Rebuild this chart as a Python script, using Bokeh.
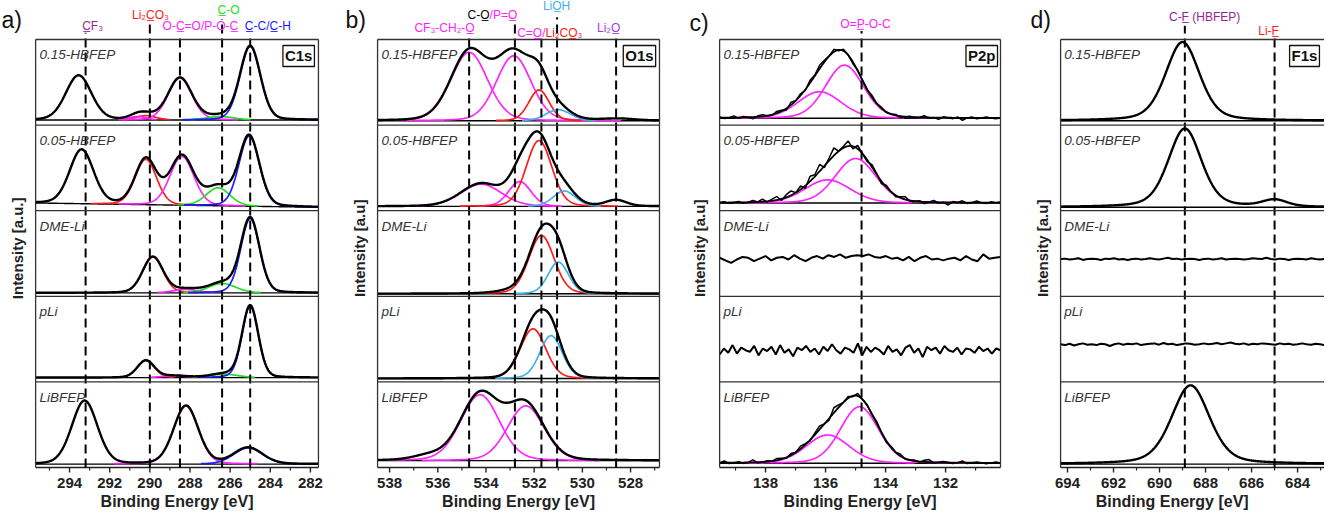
import numpy as np
from bokeh.plotting import figure
from bokeh.layouts import row
from bokeh.models import Range1d
from bokeh.core.properties import value
from bokeh.embed import file_html
from bokeh.resources import INLINE

FONT = "Liberation Sans"
SAMPLES = ["0.15-HBFEP", "0.05-HBFEP", "DME-Li", "pLi", "LiBFEP"]
COL = {"k": "black", "r": "#ff1a1a", "m": "#ff22ff", "g": "#22dd22", "b": "#1a1aff",
       "s": "#3fb0ea", "p": "#93278f", "v": "#a33ae0"}

# ---------------- data: fitted peaks (centre eV, height, FWHM eV, colour) ----------------
C1S_PEAKS = [
    [(293.55, 0.52, 1.5, "k"), (290.2, 0.05, 1.2, "r"), (290.6, 0.04, 1.0, "m"),
     (288.5, 0.49, 1.4, "m"), (286.5, 0.04, 1.6, "g"), (285.0, 0.86, 1.2, "b")],
    [(293.4, 0.63, 1.4, "k"), (290.2, 0.53, 1.25, "r"), (288.4, 0.57, 1.4, "m"),
     (286.6, 0.21, 1.4, "g"), (285.05, 0.82, 1.2, "b")],
    [(289.85, 0.42, 1.2, "r"), (288.2, 0.04, 1.5, "m"), (286.4, 0.11, 1.6, "g"),
     (285.0, 0.87, 1.1, "b")],
    [(290.2, 0.20, 1.0, "r"), (288.8, 0.02, 1.5, "m"), (286.3, 0.04, 1.6, "g"),
     (285.0, 0.84, 0.95, "b")],
    [(293.25, 0.74, 1.5, "k"), (288.2, 0.68, 1.45, "m"), (285.1, 0.19, 1.7, "b")],
]
C1S_BASE_L = [0.06, 0.09, 0.04, 0.05, 0.04]
C1S_BASE_R = [0.06, 0.04, 0.04, 0.05, 0.04]

O1S_PEAKS = [
    [(534.7, 0.80, 1.8, "m"), (532.85, 0.76, 1.7, "m"), (531.8, 0.36, 1.0, "r"),
     (531.0, 0.13, 1.2, "s"), (528.5, 0.02, 1.5, "k")],
    [(534.2, 0.26, 2.0, "m"), (532.6, 0.29, 1.1, "m"), (531.8, 0.77, 1.25, "r"),
     (530.75, 0.18, 1.1, "s"), (528.6, 0.07, 1.0, "k")],
    [(532.9, 0.03, 1.5, "k"), (531.7, 0.68, 1.25, "r"), (531.0, 0.37, 1.0, "s")],
    [(532.05, 0.58, 1.25, "r"), (531.3, 0.50, 1.1, "s")],
    [(536.4, 0.05, 1.5, "k"), (534.25, 0.77, 1.9, "m"), (532.35, 0.64, 1.8, "m")],
]
O1S_BASE_L = [0.05, 0.05, 0.03, 0.04, 0.08]
O1S_BASE_R = [0.05, 0.05, 0.03, 0.04, 0.08]

P2P_PEAKS = [
    [(135.37, 0.62, 1.5, "m"), (136.2, 0.31, 1.7, "m")],
    [(135.0, 0.52, 1.6, "m"), (135.93, 0.27, 1.8, "m")],
    None,
    None,
    [(134.87, 0.66, 1.5, "m"), (135.93, 0.33, 1.7, "m")],
]
P2P_BASE_L = [0.08, 0.09, 0.45, 0.37, 0.05]
P2P_BASE_R = [0.08, 0.09, 0.45, 0.37, 0.05]

F1S_PEAKS = [
    [(689.0, 0.92, 1.75, "k")],
    [(688.9, 0.92, 1.7, "k"), (685.0, 0.08, 1.3, "k")],
    None,
    None,
    [(688.65, 0.92, 1.95, "k")],
]
F1S_BASE_L = [0.05, 0.04, 0.435, 0.44, 0.04]
F1S_BASE_R = [0.05, 0.04, 0.435, 0.44, 0.04]

# raw-signal deviations
P2P_NOISE = [
    [0.01, -0.01, 0.0, 0.02, -0.01, 0.01, 0.0, -0.02, 0.01, 0.02, 0.0, -0.01, 0.02, 0.01, -0.02, 0.03,
     0.0, 0.02, -0.01, 0.03, 0.01, 0.04, 0.02, 0.0, 0.03, -0.01, 0.02, 0.0, -0.02, 0.01, 0.0, -0.01,
     0.02, 0.0, 0.01, -0.01, 0.0, 0.01, -0.02, 0.0, 0.01, -0.01, 0.0, 0.02, -0.01, 0.0, -0.02, 0.01,
     0.0, -0.01, 0.01, -0.03, 0.0, 0.01, -0.01, 0.0, 0.01, 0.0, -0.01, 0.0],
    [0.0, 0.01, -0.01, 0.0, 0.01, -0.01, 0.0, 0.02, 0.0, 0.03, -0.01, 0.02, 0.04, -0.02, 0.03, 0.05,
     0.0, 0.04, -0.03, 0.06, 0.02, 0.08, -0.02, 0.03, 0.09, 0.0, 0.02, 0.06, -0.03, 0.04, 0.0, -0.02,
     0.03, 0.01, -0.03, 0.02, 0.0, -0.02, 0.01, 0.03, -0.01, 0.0, 0.01, -0.02, 0.0, 0.02, -0.01, 0.0,
     -0.03, 0.01, 0.0, 0.02, -0.01, 0.0, 0.02, 0.0, -0.01, 0.01, 0.0, 0.01],
    [0.0, -0.03, -0.06, -0.02, 0.01, 0.0, -0.04, -0.01, 0.02, -0.03, 0.0, 0.01, -0.02, 0.03, -0.01,
     -0.04, 0.0, 0.02, -0.01, 0.03, 0.01, 0.04, 0.0, 0.02, 0.03, 0.02, 0.04, 0.01, 0.0, 0.02, -0.01,
     0.0, -0.03, 0.01, -0.04, 0.0, 0.02, -0.02, -0.01, -0.03, -0.01, 0.0, -0.03, 0.02, -0.02, -0.04,
     0.04, -0.01, 0.0, 0.01],
    [-0.05, 0.02, -0.03, 0.06, -0.04, 0.03, 0.0, -0.02, 0.05, -0.06, 0.02, -0.01, 0.04, -0.05, 0.06,
     -0.03, 0.01, -0.07, 0.03, 0.0, 0.05, -0.02, 0.02, -0.05, 0.04, -0.01, 0.07, 0.0, -0.04, 0.03,
     0.01, -0.03, 0.08, -0.06, 0.04, -0.02, 0.03, 0.0, -0.05, 0.05, -0.02, 0.01, -0.06, 0.03, 0.06,
     -0.03, 0.02, -0.08, 0.04, 0.0, 0.03, -0.04, 0.05, 0.0, -0.02, 0.03, -0.05, 0.02, 0.01, -0.03,
     0.04, -0.01, 0.02, -0.04, 0.02, 0.0],
    [0.0, 0.02, -0.01, 0.0, 0.01, -0.01, 0.0, 0.03, -0.01, 0.0, 0.01, 0.0, 0.02, 0.01, -0.01, 0.02,
     0.0, 0.03, 0.01, -0.01, 0.02, 0.04, 0.0, -0.02, 0.06, 0.03, 0.0, 0.02, -0.01, 0.03, 0.0, 0.01,
     -0.01, 0.02, 0.0, -0.02, 0.01, 0.0, 0.02, -0.01, 0.0, 0.01, -0.01, 0.02, 0.03, -0.01, 0.0, 0.01,
     0.0, -0.01, 0.0, 0.02, -0.01, 0.0, 0.01, 0.0, -0.01, 0.0, 0.01, 0.0],
]
F1S_NOISE = [
    None, None,
    [0.0, 0.005, -0.005, 0.0, 0.01, -0.01, 0.0, 0.005, 0.0, -0.01, 0.005, 0.0, 0.01, -0.005, 0.0,
     -0.01, 0.0, 0.005, -0.005, 0.0, 0.01, 0.0, -0.005, 0.005, 0.015, 0.0, 0.005, -0.005, 0.0, 0.005,
     0.0, -0.01, 0.0, 0.005, -0.005, 0.0, 0.01, -0.005, 0.0, 0.005, 0.0, -0.005, 0.0, 0.01, 0.005,
     0.0, 0.015, 0.0, -0.005, 0.005, 0.0, -0.01, 0.0, 0.005, 0.0, -0.005, 0.01, 0.0, -0.005, 0.0],
    [0.0, -0.01, 0.005, -0.015, 0.0, 0.01, -0.005, 0.0, -0.01, 0.005, 0.0, -0.02, 0.0, 0.01, -0.005,
     0.005, 0.0, 0.01, -0.01, 0.0, 0.005, 0.01, -0.005, 0.015, 0.0, 0.005, -0.01, 0.0, 0.01, 0.005,
     -0.005, 0.0, 0.01, 0.0, 0.005, 0.015, 0.0, 0.01, 0.02, 0.005, 0.0, 0.01, -0.005, 0.005, 0.0,
     0.01, 0.005, 0.0, -0.005, 0.01, 0.0, 0.005, -0.005, 0.0, 0.01, 0.0, -0.005, 0.005, 0.0, -0.01],
    None,
]
NO_NOISE = [None] * 5

# reference binding energies (dashed lines)
C1S_LINES = [293.2, 290.0, 288.5, 286.4, 285.0]
O1S_LINES = [534.7, 532.8, 531.7, 531.05, 528.6]
P2P_LINES = [134.8]
F1S_LINES = [688.9, 685.0]

TICKS_C1S = [282, 284, 286, 288, 290, 292, 294]
TICKS_O1S = [528, 530, 532, 534, 536, 538]
TICKS_P2P = [132, 134, 136, 138]
TICKS_F1S = [684, 686, 688, 690, 692, 694]

U = "\u0332"  # combining underline
UNIT_PX = 85.6


def pv(x, c, h, w, m):
    d = (x - c) / w
    return h * ((1 - m) * np.exp(-4 * np.log(2) * d * d) + m / (1 + 4 * d * d))


def panel(width, xr, frame, ticks, peaks, base_l, base_r, noise, mix, lines, line_tops,
          labels, letter, ylabel, core, right_edge=True):
    ytop = 5 + 39 / UNIT_PX
    ybot = -43 / UNIT_PX
    p = figure(width=width, height=510, x_range=Range1d(*xr), y_range=Range1d(ybot, ytop),
               output_backend="svg", toolbar_location=None, y_axis_location=None,
               x_axis_location=None, min_border=0)
    p.outline_line_color = None
    p.xgrid.visible = False
    p.ygrid.visible = False
    p.background_fill_color = "white"
    p.border_fill_color = "white"
    fl, fr = frame
    lo, hi = min(fl, fr), max(fl, fr)

    # x axis drawn from the tick arrays
    minor = sorted(set(m for t in ticks for m in (t - 1, t + 1) if lo < m < hi and m not in ticks))
    p.segment(x0=[lo], y0=[0], x1=[hi], y1=[0], color="#222", line_width=1.6)
    p.segment(x0=ticks, y0=[0] * len(ticks), x1=ticks, y1=[-5 / UNIT_PX] * len(ticks),
              color="#222", line_width=1.4)
    p.segment(x0=minor, y0=[0] * len(minor), x1=minor, y1=[-3 / UNIT_PX] * len(minor),
              color="#222", line_width=1.2)
    p.text(x=ticks, y=[-15 / UNIT_PX] * len(ticks), text=[str(t) for t in ticks],
           text_font=value(FONT), text_font_style="bold", text_font_size="15px",
           text_color="#222", text_align="center", text_baseline="middle")
    xmid = (fl + fr) / 2 if right_edge else (fl + 684.6) / 2
    p.text(x=[xmid], y=[-34 / UNIT_PX], text=["Binding Energy [eV]"], text_font=value(FONT),
           text_font_style="bold", text_font_size="16px", text_color="#222",
           text_align="center", text_baseline="middle")

    # spectra
    for i in range(5):
        off = 4 - i
        pk = peaks[i]
        nz = noise[i]
        if pk is None:
            xs_n = np.linspace(fl, fr, len(nz))
            p.line(xs_n, off + base_l[i] + np.array(nz), color="black", line_width=2)
            continue
        xs = np.linspace(fl, fr, 600)
        base = base_l[i] + (base_r[i] - base_l[i]) * (xs - fl) / (fr - fl)
        env = base.copy()
        p.line(xs, off + base, color="black", line_width=1.4)
        for (c, h, w, col) in pk:
            comp = pv(xs, c, h, w, mix)
            env = env + comp
            if col != "k":
                yy = off + base + comp
                yy[comp < 0.004] = np.nan
                p.line(xs, yy, color=COL[col], line_width=1.7)
        if nz is not None:
            xs_n = np.linspace(fl, fr, len(nz))
            base_n = base_l[i] + (base_r[i] - base_l[i]) * (xs_n - fl) / (fr - fl)
            raw = base_n + sum(pv(xs_n, c, h, w, mix) for (c, h, w, col) in pk) + np.array(nz)
            p.line(xs_n, off + raw, color="black", line_width=1.5)
            p.line(xs, off + env, color="black", line_width=1.8)
        else:
            p.line(xs, off + env, color="black", line_width=2.4)

    # dashed reference lines
    p.segment(x0=lines, y0=[0] * len(lines), x1=lines, y1=line_tops, color="black",
              line_width=2, line_dash="9 5")

    # sub-panel frames
    p.segment(x0=[fl] * 5, y0=[1, 2, 3, 4, 5], x1=[fr] * 5, y1=[1, 2, 3, 4, 5],
              color="#333", line_width=1.3)
    xv = [fl, fr] if right_edge else [fl]
    p.segment(x0=xv, y0=[0] * len(xv), x1=xv, y1=[5] * len(xv), color="#333", line_width=1.3)

    # sample names
    sx = fl - (fl - fr) * 0.014
    p.text(x=[sx] * 5, y=[4.82 - k for k in range(5)], text=SAMPLES,
           text_font=value(FONT), text_font_style="italic", text_font_size="13.5px",
           text_color="#333", text_align="left", text_baseline="middle")

    # peak labels
    for (lx, ly, txt, col, al) in labels:
        p.text(x=[lx], y=[ly], text=[txt], text_font=value(FONT), text_font_size="12px",
               text_color=COL[col], text_align=al, text_baseline="middle")

    # panel letter
    p.text(x=[letter[0]], y=[letter[1]], text=[letter[2]], text_font=value(FONT),
           text_font_size="23px", text_color="#111", text_align="left", text_baseline="middle")
    # y label
    p.text(x=[ylabel[0]], y=[2.56], text=[ylabel[1]], text_font=value(FONT),
           text_font_style="bold", text_font_size="15px", text_color="#222",
           text_align="center", text_baseline="middle", angle=np.pi / 2)
    # core level box
    p.text(x=[core[0]], y=[4.93], text=[core[1]], text_font=value(FONT), text_font_style="bold",
           text_font_size="15px", text_color="#111", text_align=core[2], text_baseline="top",
           border_line_color="#111", border_line_width=1.3, padding=2,
           background_fill_color="white")
    return p


pa = panel(332, (297.44, 280.90), (295.69, 281.60), TICKS_C1S, C1S_PEAKS, C1S_BASE_L, C1S_BASE_R,
           NO_NOISE, 0.15, C1S_LINES, [5.08, 5.23, 5.06, 5.24, 5.06],
           [(292.85, 5.16, "C" + U + "F₃", "p", "center"),
            (289.97, 5.29, "Li₂C" + U + "O₃", "r", "center"),
            (287.48, 5.16, "O-C" + U + "=O/P-O-C" + U, "m", "center"),
            (286.08, 5.35, "C" + U + "-O", "g", "center"),
            (284.12, 5.16, "C" + U + "-C/C" + U + "-H", "b", "center")],
           (297.39, 5.23, "a)"), (296.59, "Intensity [a.u.]"), (281.8, "C1s", "right"))

pb = panel(340, (540.37, 526.26), (538.50, 526.80), TICKS_O1S, O1S_PEAKS, O1S_BASE_L, O1S_BASE_R,
           NO_NOISE, 0.15, O1S_LINES, [5.02, 5.18, 5.02, 5.26, 5.02],
           [(535.72, 5.14, "CF₃-CH₂-O" + U, "m", "center"),
            (533.85, 5.29, "C-O" + U, "k", "right"),
            (533.85, 5.29, "/P=O" + U, "m", "left"),
            (531.53, 5.08, "C=O" + U + "/", "m", "right"),
            (531.53, 5.08, "Li₂CO" + U + "₃", "r", "left"),
            (531.07, 5.39, "LiO" + U + "H", "s", "center"),
            (528.91, 5.14, "Li₂O" + U, "v", "center")],
           (539.83, 5.23, "b)"), (539.24, "Intensity [a.u]"), (526.96, "O1s", "right"))

pc = panel(340, (141.10, 129.77), (139.53, 130.17), TICKS_P2P, P2P_PEAKS, P2P_BASE_L, P2P_BASE_R,
           P2P_NOISE, 0.15, P2P_LINES, [5.1],
           [(134.67, 5.18, "O=P" + U + "-O-C", "m", "center")],
           (140.53, 5.19, "c)"), (140.2, "Intensity [a.u]"), (130.27, "P2p", "right"))

pd = panel(312, (696.39, 682.83), (694.30, 682.83), TICKS_F1S, F1S_PEAKS, F1S_BASE_L, F1S_BASE_R,
           F1S_NOISE, 0.35, F1S_LINES, [5.16, 5.02],
           [(688.04, 5.26, "C-F" + U + " (HBFEP)", "p", "center"),
            (685.26, 5.10, "Li-F" + U, "r", "center")],
           (695.61, 5.23, "d)"), (695.09, "Intensity [a.u]"), (683.05, "F1s", "right"),
           right_edge=False)

layout = row(pa, pb, pc, pd)
open("out.html", "w").write(file_html(layout, INLINE))
